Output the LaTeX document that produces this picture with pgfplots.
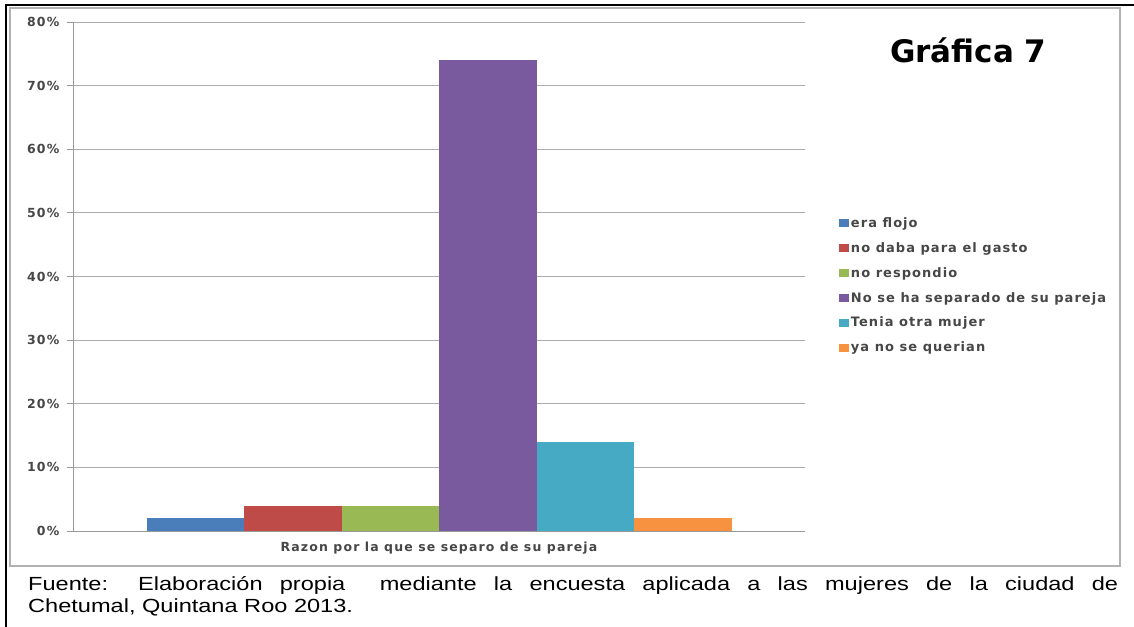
\documentclass[border=0pt]{standalone}
\usepackage{pgfplots}
\pgfplotsset{compat=1.18}
\usepackage{fontspec}
\setmainfont{DejaVu Sans}
\newfontfamily\capfont[FakeStretch=1.24]{Liberation Sans}
\newfontfamily\legfont[LetterSpace=8]{DejaVu Sans Bold}
\newfontfamily\tickfont[LetterSpace=10]{DejaVu Sans Bold}
\newfontfamily\xlfont[LetterSpace=9]{DejaVu Sans Bold}
\definecolor{c1}{HTML}{4A7EBB}
\definecolor{c2}{HTML}{BE4B48}
\definecolor{c3}{HTML}{98B954}
\definecolor{c4}{HTML}{7A5A9E}
\definecolor{c5}{HTML}{46AAC5}
\definecolor{c6}{HTML}{F69240}
\pgfplotsset{sq/.style={legend image code/.code={\fill[##1] (-6pt,-4pt) rectangle (4pt,4pt);}}}
\begin{document}
\begin{tikzpicture}
\useasboundingbox (0,0) rectangle (1134pt,626pt);
\fill[white] (0,0) rectangle (1134pt,626pt);
\draw[gray!60, line width=1.2pt] (10pt,60pt) rectangle (1120pt,618pt);
\draw[black, line width=2.5pt] (6pt,-5pt) -- (6pt,621pt) -- (1140pt,621pt);
\begin{axis}[
  at={(73pt,95pt)}, anchor=south west,
  width=732pt, height=509pt, scale only axis,
  xmin=-1, xmax=1, ymin=0, ymax=80,
  ybar=0pt, bar width=97.5pt,
  axis lines=left,
  axis line style={-, draw=gray!80, line width=0.8pt},
  xtick=\empty,
  ytick={0,10,...,80},
  tick align=outside, major tick length=6pt,
  tick style={gray!80, line width=0.8pt},
  ymajorgrids, grid style={gray!65, line width=0.9pt},
  /pgf/number format/assume math mode=true,
  yticklabel={\pgfmathprintnumber{\tick}\%},
  yticklabel style={font=\tickfont\fontsize{12.5}{13}\selectfont, text=black!72, xshift=-4pt},
  xlabel={Razon por la que se separo de su pareja},
  xlabel style={font=\xlfont\fontsize{12.5}{14}\selectfont, text=black!72, at={(axis description cs:0.5,0)}, anchor=center, yshift=-17pt},
  legend style={at={(1.042,0.624)}, anchor=north west, draw=none, fill=none,
    font=\legfont\fontsize{13}{15}\selectfont, text=black!72, row sep=9.5pt},
  legend cell align=left,
]
\addplot[fill=c1, draw=none, sq] coordinates {(0,2)};
\addplot[fill=c2, draw=none, sq] coordinates {(0,4)};
\addplot[fill=c3, draw=none, sq] coordinates {(0,4)};
\addplot[fill=c4, draw=none, sq] coordinates {(0,74)};
\addplot[fill=c5, draw=none, sq] coordinates {(0,14)};
\addplot[fill=c6, draw=none, sq] coordinates {(0,2)};
\legend{era flojo, no daba para el gasto, no respondio, No se ha separado de su pareja, Tenia otra mujer, ya no se querian}
\end{axis}
\node[font=\fontsize{31}{31}\selectfont\bfseries, anchor=base west, inner sep=0pt] at (890pt,563pt) {Gráfica 7};
\node[anchor=base west, inner sep=0pt] at (28pt,35pt) {\parbox[t]{1090pt}{\capfont\fontsize{19}{21}\selectfont Fuente: Elaboración propia \ mediante la encuesta aplicada a las mujeres de la ciudad de\linebreak Chetumal, Quintana Roo 2013.}};
\end{tikzpicture}
\end{document}
